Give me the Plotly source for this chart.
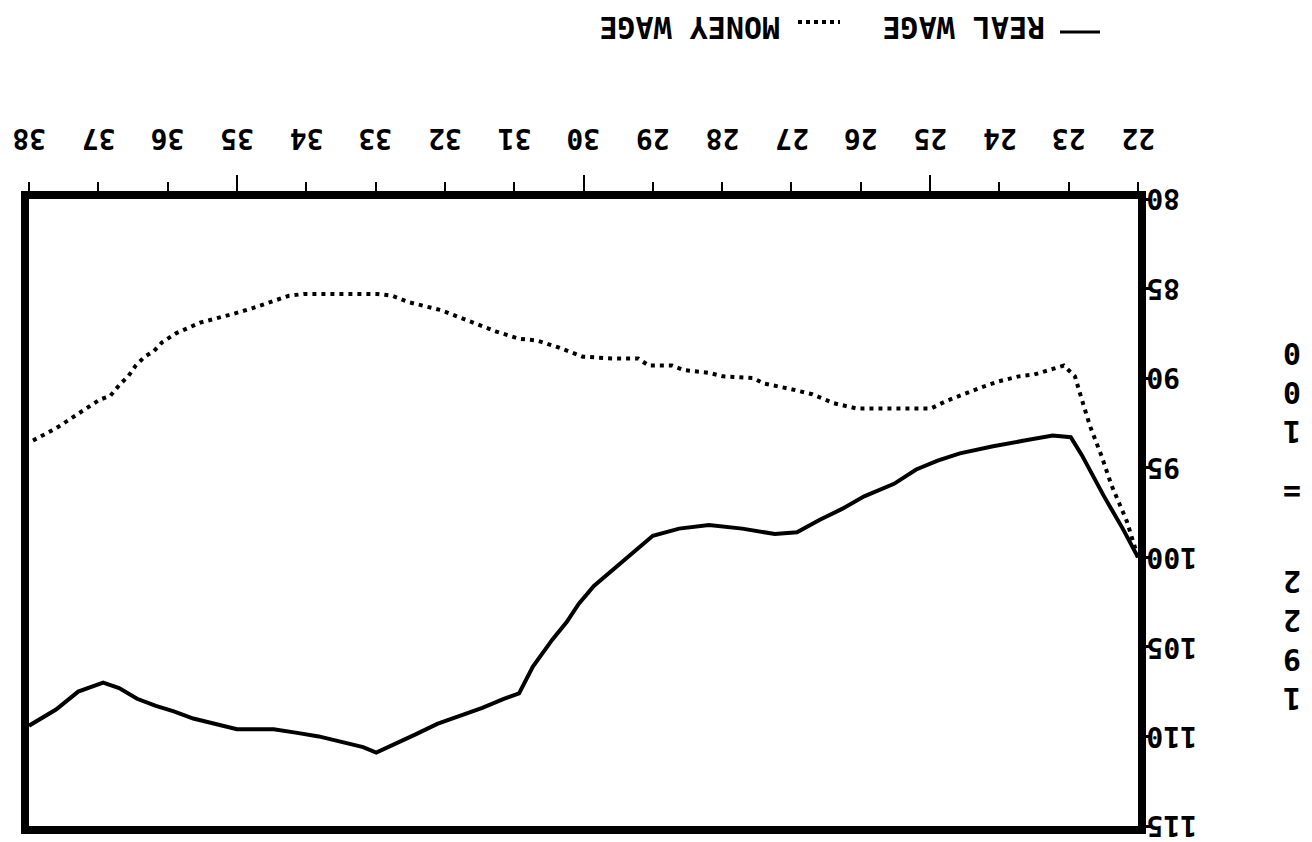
import plotly.graph_objects as go

# ---- data (index, 1922 = 100) ----
years_real = [22.0, 22.22, 22.49, 22.81, 22.97, 23.23, 23.66, 24.09, 24.57, 24.89, 25.20, 25.52,
              25.95, 26.27, 26.59, 26.92, 27.24, 27.71, 28.19, 28.62, 29.00, 29.31, 29.59, 29.85,
              30.07, 30.24, 30.45, 30.73, 30.93, 31.15, 31.46, 31.80, 32.11, 32.43, 32.75, 32.99,
              33.18, 33.50, 33.82, 34.13, 34.47, 35.00, 35.32, 35.63, 35.91, 36.17, 36.44, 36.70,
              36.93, 37.29, 37.61, 38.0]
real_wage = [100.0, 98.4, 96.6, 94.3, 93.3, 93.2, 93.5, 93.8, 94.2, 94.6, 95.1, 95.9,
             96.6, 97.3, 97.9, 98.6, 98.7, 98.4, 98.2, 98.4, 98.8, 99.8, 100.7, 101.6,
             102.6, 103.6, 104.6, 106.1, 107.6, 107.9, 108.4, 108.9, 109.3, 109.9, 110.5, 110.9,
             110.6, 110.3, 110.0, 109.8, 109.6, 109.6, 109.3, 109.0, 108.6, 108.3, 107.9, 107.3,
             107.0, 107.5, 108.5, 109.4]

years_money = [22.0, 22.16, 22.27, 22.38, 22.53, 22.69, 22.81, 22.91, 23.07, 23.28, 23.50, 23.72,
               24.03, 24.25, 24.51, 24.78, 24.99, 25.52, 26.05, 26.39, 26.70, 27.02, 27.40, 27.55,
               27.99, 28.19, 28.56, 28.72, 29.06, 29.21, 29.59, 30.01, 30.35, 30.67, 30.93, 31.26,
               31.58, 31.84, 32.06, 32.27, 32.53, 32.76, 32.97, 33.50, 34.03, 34.25, 34.51, 34.78,
               35.04, 35.26, 35.53, 35.88, 36.08, 36.20, 36.33, 36.46, 36.57, 36.70, 36.83, 36.98,
               37.18, 37.39, 37.61, 38.0]
money_wage = [100.0, 98.0, 97.0, 96.0, 94.3, 92.7, 91.2, 89.9, 89.3, 89.55, 89.8, 89.9,
              90.2, 90.5, 90.9, 91.3, 91.7, 91.7, 91.7, 91.4, 90.9, 90.6, 90.3, 90.0,
              89.9, 89.7, 89.55, 89.3, 89.3, 88.9, 88.9, 88.8, 88.3, 87.9, 87.8, 87.4,
              86.9, 86.5, 86.2, 86.0, 85.75, 85.4, 85.3, 85.3, 85.3, 85.4, 85.75, 86.1,
              86.4, 86.6, 86.9, 87.5, 88.0, 88.5, 88.8, 89.3, 89.9, 90.4, 91.0, 91.2,
              91.7, 92.2, 92.8, 93.6]

x_ticks = list(range(22, 39))
x_major = [25, 30, 35]
y_ticks = [80, 85, 90, 95, 100, 105, 110, 115]
legend_real = "REAL WAGE"
legend_money = "MONEY WAGE"
base_year = "1922"
base_eq = "="
base_val = "100"

FONT = "DejaVu Sans Mono"
INK = "black"

# pixel helpers for placing non-data decorations (plot area: x 21..1130, y 191..818)
def px(xp):
    return (xp - 21) / 1109

def py(yp):
    return (818 - yp) / 627

def stack(s):
    return "<br>".join(list(s))

fig = go.Figure()
fig.add_trace(go.Scatter(x=years_real, y=real_wage, mode="lines",
                         line=dict(color=INK, width=4), name=legend_real, showlegend=False))
fig.add_trace(go.Scatter(x=years_money, y=money_wage, mode="lines",
                         line=dict(color=INK, width=4, dash="4px,5px"), name=legend_money,
                         showlegend=False))

ann = []
for t in x_ticks:
    ann.append(dict(x=t, xref="x", y=1, yref="paper", yshift=60, text=str(t),
                    textangle=180, showarrow=False, xanchor="center", yanchor="middle",
                    font=dict(family=FONT, size=28, color=INK, weight="bold")))
for t in y_ticks:
    ann.append(dict(x=1, xref="paper", xshift=6, y=t, yref="y", text=str(t),
                    textangle=180, showarrow=False, xanchor="left", yanchor="middle",
                    font=dict(family=FONT, size=28, color=INK, weight="bold")))

# legend (drawn upside down like the reference)
ann.append(dict(x=px(682), xref="paper", y=py(19), yref="paper",
                text=legend_money, textangle=180, showarrow=False,
                xanchor="center", yanchor="middle",
                font=dict(family=FONT, size=30, color=INK, weight="bold")))
ann.append(dict(x=px(956), xref="paper", y=py(19), yref="paper",
                text=legend_real, textangle=180, showarrow=False,
                xanchor="center", yanchor="middle",
                font=dict(family=FONT, size=30, color=INK, weight="bold")))
# vertical base label "1922 = 100", stacked characters, upside down
for txt, yc in [(base_val, 385), (base_eq, 485), (base_year, 632)]:
    ann.append(dict(x=px(1284), xref="paper", y=py(yc), yref="paper",
                    text=stack(txt), textangle=180, showarrow=False,
                    xanchor="center", yanchor="middle",
                    font=dict(family=FONT, size=30, color=INK, weight="bold")))

shapes = [
    dict(type="line", xref="paper", yref="paper",
         x0=px(1052), x1=px(1092), y0=py(24), y1=py(24), line=dict(color=INK, width=3)),
    dict(type="line", xref="paper", yref="paper",
         x0=px(790), x1=px(832), y0=py(14), y1=py(14),
         line=dict(color=INK, width=4, dash="4px,4px")),
]

fig.update_layout(
    width=1312, height=842, autosize=False,
    margin=dict(l=21, r=182, t=191, b=24),
    paper_bgcolor="white", plot_bgcolor="white",
    showlegend=False, annotations=ann, shapes=shapes,
    xaxis=dict(range=[38, 22], side="top", showline=True, linewidth=8, linecolor=INK,
               mirror=True, ticks="outside", tickvals=x_major, ticklen=16, tickwidth=2,
               tickcolor=INK, showticklabels=False, showgrid=False, zeroline=False,
               minor=dict(tickvals=x_ticks, ticks="outside", ticklen=9, tickwidth=2,
                          tickcolor=INK, showgrid=False)),
    yaxis=dict(range=[115, 80], side="right", showline=True, linewidth=8, linecolor=INK,
               mirror=True, ticks="outside", tickvals=y_ticks, ticklen=6, tickwidth=3,
               tickcolor=INK, showticklabels=False, showgrid=False, zeroline=False),
)

fig.write_html("out.html")
